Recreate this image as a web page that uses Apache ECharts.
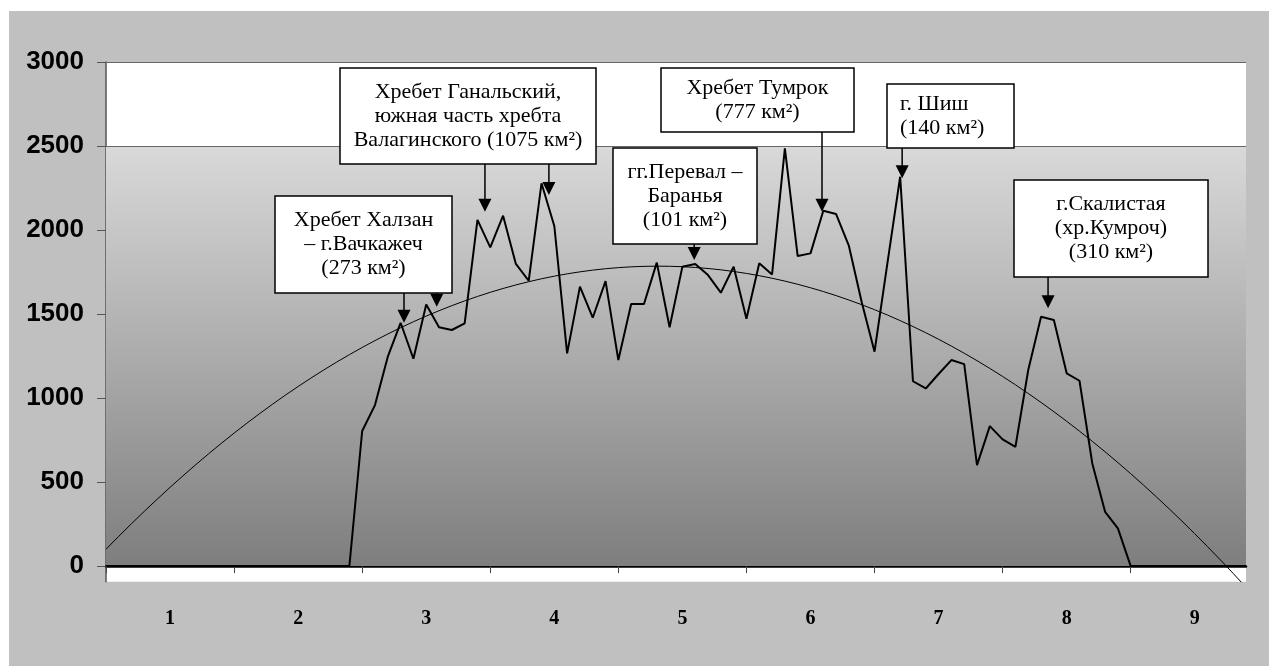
<!DOCTYPE html>
<html>
<head>
<meta charset="utf-8">
<script src="https://cdn.jsdelivr.net/npm/echarts@6/dist/echarts.min.js"></script>
<style>
  html, body { margin: 0; padding: 0; background: #fff; }
  #wrap { position: relative; width: 1269px; height: 666px; background: #fff; overflow: hidden; }
  #frame { position: absolute; left: 9px; top: 11px; width: 1260px; height: 655px; background: #c0c0c0; }
  #chart { position: absolute; left: 0; top: 0; width: 1269px; height: 666px; }
</style>
</head>
<body>
<div id="wrap"><div id="frame"></div><div id="chart"></div></div>
<script>
// ---- data ----
const categoryLabels = ['1', '2', '3', '4', '5', '6', '7', '8', '9'];
const yTicks = [0, 500, 1000, 1500, 2000, 2500, 3000];
const elevation = [
  0, 0, 0, 0, 0, 0, 0, 0, 0, 0,
  0, 0, 0, 0, 0, 0, 0, 0, 0, 0,
  804, 958, 1246, 1448, 1234, 1557, 1421, 1405, 1444, 2060,
  1897, 2085, 1798, 1698, 2278, 2024, 1266, 1663, 1478, 1696,
  1226, 1560, 1560, 1806, 1421, 1782, 1798, 1732, 1627, 1782,
  1472, 1802, 1736, 2486, 1845, 1861, 2115, 2095, 1905, 1570,
  1276, 1800, 2317, 1100, 1057, 1143, 1226, 1202, 601, 833,
  754, 710, 1167, 1484, 1464, 1147, 1103, 611, 323, 224,
  0, 0, 0, 0, 0, 0, 0, 0, 0, 0
];
// polynomial (order 2) trendline equation: a0 + a1*i + a2*i^2
const trendCoef = [100.2, 78.18, -0.907];

const annotations = [
  { lines: ['Хребет Халзан', '– г.Вачкажеч', '(273 км²)'], box: [275, 196, 177, 97], align: 'center',
    arrows: [{ idx: 23, dx: 3.4, dy: 0 }, { idx: 25, dx: 10.5, dy: 2.3 }] },
  { lines: ['Хребет Ганальский,', 'южная часть хребта', 'Валагинского (1075 км²)'], box: [340, 68, 256, 96], align: 'center',
    arrows: [{ idx: 29, dx: 7.5, dy: -8.3 }, { idx: 34, dx: 7.4, dy: 11.7 }] },
  { lines: ['гг.Перевал –', 'Баранья', '(101 км²)'], box: [613, 148, 144, 96], align: 'center',
    arrows: [{ idx: 46, dx: -1, dy: -4 }] },
  { lines: ['Хребет Тумрок', '(777 км²)'], box: [661, 68, 193, 64], align: 'center',
    arrows: [{ idx: 56, dx: -1.3, dy: 1 }] },
  { lines: ['г. Шиш', '(140 км²)'], box: [887, 84, 127, 64], align: 'left',
    arrows: [{ idx: 62, dx: 2, dy: 1.6 }] },
  { lines: ['г.Скалистая', '(хр.Кумроч)', '(310 км²)'], box: [1014, 180, 194, 97], align: 'center',
    arrows: [{ idx: 73, dx: 7, dy: -8.4 }] }
];

// ---- build ----
const categories = elevation.map((_, i) => String(i));
const trend = elevation.map((_, i) => trendCoef[0] + trendCoef[1] * i + trendCoef[2] * i * i);

const chart = echarts.init(document.getElementById('chart'), null, { renderer: 'canvas' });

const gradient = new echarts.graphic.LinearGradient(0, 0, 0, 1, [
  { offset: 0, color: '#d9d9d9' },
  { offset: 1, color: '#7e7e7e' }
]);

chart.setOption({
  backgroundColor: 'transparent',
  animation: false,
  grid: { left: 106, right: 23, top: 62, bottom: 84.3, show: true, backgroundColor: '#ffffff', borderWidth: 0 },
  xAxis: {
    type: 'category',
    data: categories,
    boundaryGap: false,
    axisLine: { show: true, onZero: true, lineStyle: { color: '#000', width: 2.5 } },
    axisTick: { show: true, length: 7, interval: (i) => i % 10 === 0, lineStyle: { color: '#444', width: 1 } },
    axisLabel: {
      interval: 0,
      margin: 37,
      verticalAlign: 'middle',
      fontFamily: 'Liberation Serif',
      fontWeight: 'bold',
      fontSize: 20,
      color: '#000',
      formatter: (v, i) => (i % 10 === 5 ? categoryLabels[(i - 5) / 10] : '')
    },
    splitLine: { show: false }
  },
  yAxis: {
    type: 'value',
    min: -93,
    max: 3000,
    axisLine: { show: true, onZero: false, lineStyle: { color: '#555', width: 1.5 } },
    axisTick: { show: true, length: 9, customValues: yTicks, lineStyle: { color: '#555', width: 1 } },
    axisLabel: {
      customValues: yTicks,
      margin: 22,
      fontFamily: 'Liberation Sans',
      fontWeight: 'bold',
      fontSize: 26,
      color: '#000',
      formatter: (v) => String(v)
    },
    splitLine: { show: false }
  },
  series: [
    {
      type: 'line',
      name: 'trend',
      data: trend,
      symbol: 'none',
      silent: true,
      z: 3,
      lineStyle: { color: '#000', width: 1 },
      markArea: {
        silent: true,
        itemStyle: { color: gradient },
        data: [[{ yAxis: 0 }, { yAxis: 2500 }]]
      },
      markLine: {
        silent: true,
        symbol: 'none',
        label: { show: false },
        lineStyle: { color: '#666', width: 1, type: 'solid' },
        data: [{ yAxis: 2500 }, { yAxis: 3000 }]
      }
    },
    {
      type: 'line',
      name: 'elevation',
      data: elevation,
      symbol: 'none',
      z: 4,
      lineStyle: { color: '#000', width: 2 }
    }
  ]
});

// ---- annotations (callout boxes with arrows to data points) ----
const graphics = [];
annotations.forEach((a) => {
  const [bx, by, bw, bh] = a.box;
  a.arrows.forEach((ar) => {
    const p = chart.convertToPixel({ xAxisIndex: 0, yAxisIndex: 0 }, [ar.idx, elevation[ar.idx]]);
    const x = p[0] + ar.dx;
    const tip = p[1] + ar.dy;
    graphics.push({
      type: 'line', z: 10,
      shape: { x1: x, y1: by + bh, x2: x, y2: tip - 10 },
      style: { stroke: '#000', lineWidth: 1.5 }
    });
    graphics.push({
      type: 'polygon', z: 10,
      shape: { points: [[x - 6.5, tip - 13], [x + 6.5, tip - 13], [x, tip]] },
      style: { fill: '#000' }
    });
  });
  graphics.push({
    type: 'rect', z: 11,
    shape: { x: bx, y: by, width: bw, height: bh },
    style: { fill: '#fff', stroke: '#000', lineWidth: 1.5 }
  });
  graphics.push({
    type: 'text', z: 12,
    style: {
      text: a.lines.join('\n'),
      x: a.align === 'left' ? bx + 13 : bx + bw / 2,
      y: by + bh / 2,
      align: a.align,
      verticalAlign: 'middle',
      fontFamily: 'Liberation Serif',
      fontSize: 22,
      lineHeight: 24,
      fill: '#000'
    }
  });
});
chart.setOption({ graphic: graphics });
</script>
</body>
</html>
